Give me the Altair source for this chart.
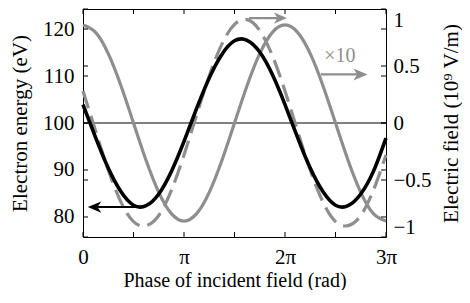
import math
import json
import altair as alt
import pandas as pd

PI = math.pi

# ---- data ----
phase_pi = [0, 0.125, 0.25, 0.375, 0.5, 0.625, 0.75, 0.875, 1.0, 1.125, 1.25, 1.375, 1.5,
            1.625, 1.75, 1.875, 2.0, 2.125, 2.25, 2.375, 2.5, 2.625, 2.75, 2.875, 3.0]
energy_ev = [103.9, 96.9, 90.4, 85.4, 82.5, 82.4, 84.9, 89.7, 96.1, 103.1, 109.6, 114.6, 117.5,
             117.6, 115.1, 110.3, 103.9, 96.9, 90.4, 85.4, 82.5, 82.4, 84.9, 89.7, 96.8]
field_dashed = [0.281, -0.071, -0.413, -0.692, -0.865, -0.900, -0.811, -0.591, -0.281, 0.071, 0.413,
                0.692, 0.865, 0.907, 0.811, 0.591, 0.281, -0.071, -0.413, -0.692, -0.865, -0.900,
                -0.811, -0.591, -0.281]
field_solid = [0.86, 0.795, 0.608, 0.329, 0.0, -0.329, -0.608, -0.795, -0.86, -0.795, -0.608, -0.329,
               0.0, 0.329, 0.608, 0.795, 0.86, 0.795, 0.608, 0.329, 0.0, -0.329, -0.608, -0.795, -0.86]

x_tick_pi = [0, 0.5, 1.0, 1.5, 2.0, 2.5, 3.0]
x_label_pi = [0, 1, 2, 3]
x_labels = ["0", "π", "2π", "3π"]
left_ticks = [80, 90, 100, 110, 120]
right_ticks = [-1, -0.5, 0, 0.5, 1]
right_labels = ["−1", "−0.5", "0", "0.5", "1"]

# annotation arrows (phase in rad, value on own axis)
black_arrow_x = [1.80, 0.358]
black_arrow_v = [82.1, 82.1]
x10_arrow_x = [7.40, 8.63]
x10_arrow_v = [0.426, 0.426]
top_arrow_x = [5.16, 6.14]
top_arrow_v = [0.92, 0.92]
x10_text = "×10"
x10_text_x = [7.99]
x10_text_v = [0.535]

W, H = 303, 228
FONT = "Liberation Serif, Times New Roman, Times, serif"
GRAY = "#8e8e8e"
FS = 21

left_head = "M-1,0 L1,-0.85 L0.45,0 L1,0.85 Z"
right_head = "M1,0 L-1,-0.85 L-0.45,0 L-1,0.85 Z"

x_axis = alt.Axis(
    values=[p * PI for p in x_label_pi],
    labelExpr=json.dumps(x_labels) + "[round(datum.value / PI)]",
    title="Phase of incident field (rad)",
    ticks=False, domain=False, grid=False, labelFlush=False,
    labelFont=FONT, labelFontSize=FS, labelColor="black",
    labelBaseline="alphabetic", labelPadding=26,
    titleFont=FONT, titleFontSize=20, titleFontWeight="normal", titleColor="black",
    titleBaseline="alphabetic", titleY=49, titleX=W / 2,
)
x_enc = alt.X("x:Q", scale=alt.Scale(domain=[0, 3 * PI], nice=False, zero=False), axis=x_axis)

left_axis = alt.Axis(
    orient="left", values=left_ticks, title="Electron energy (eV)",
    ticks=False, domain=False, grid=False,
    labelFont=FONT, labelFontSize=FS, labelColor="black", labelPadding=9,
    titleFont=FONT, titleFontSize=FS, titleFontWeight="normal", titleColor="black",
    titleAngle=270, titleX=-63, titleY=H / 2, titleAlign="center", titleBaseline="middle",
)
ly = alt.Y("v:Q", scale=alt.Scale(domain=[75.74, 124.26], nice=False, zero=False), axis=left_axis)

right_axis = alt.Axis(
    orient="right", values=right_ticks,
    labelExpr=json.dumps(right_labels) + "[round((datum.value + 1) * 2)]",
    title="Electric field (10⁹ V/m)",
    ticks=False, domain=False, grid=False, labelFlush=True,
    labelFont=FONT, labelFontSize=FS, labelColor="black", labelPadding=7,
    titleFont=FONT, titleFontSize=FS, titleFontWeight="normal", titleColor="black",
    titleAngle=270, titleX=65, titleY=H / 2, titleAlign="center", titleBaseline="middle",
)
ry = alt.Y("v:Q", scale=alt.Scale(domain=[-1, 1], nice=False, zero=False), axis=right_axis)

xs = [p * PI for p in phase_pi]
df_black = pd.DataFrame({"x": xs, "v": energy_ev})
df_dash = pd.DataFrame({"x": xs, "v": field_dashed})
df_solid = pd.DataFrame({"x": xs, "v": field_solid})

# ---- left (energy) group ----
black_line = alt.Chart(df_black).mark_line(color="black", strokeWidth=3.6, interpolate="natural").encode(x=x_enc, y=ly)
ba = pd.DataFrame({"x": black_arrow_x, "v": black_arrow_v})
black_shaft = alt.Chart(ba).mark_line(color="black", strokeWidth=2).encode(x=x_enc, y=ly)
black_head = alt.Chart(ba.iloc[[1]]).mark_point(shape=left_head, filled=True, size=180, color="black", opacity=1).encode(x=x_enc, y=ly)
lt = pd.DataFrame({"v": left_ticks})
lt_l = alt.Chart(lt).mark_rule(color="black", strokeWidth=1).encode(y=ly, x=alt.value(0), x2=alt.value(5))
lt_r = alt.Chart(lt).mark_rule(color="black", strokeWidth=1).encode(y=ly, x=alt.value(W - 5), x2=alt.value(W))
left_group = alt.layer(lt_l, lt_r, black_line, black_shaft, black_head)

# ---- right (field) group ----
zero_rule = alt.Chart(pd.DataFrame({"v": [0]})).mark_rule(color="black", strokeWidth=1).encode(y=ry)
solid_line = alt.Chart(df_solid).mark_line(color=GRAY, strokeWidth=3.2, interpolate="natural").encode(x=x_enc, y=ry)
dash_line = alt.Chart(df_dash).mark_line(color=GRAY, strokeWidth=3.2, strokeDash=[18, 8], interpolate="natural").encode(x=x_enc, y=ry)
xa = pd.DataFrame({"x": x10_arrow_x, "v": x10_arrow_v})
x10_shaft = alt.Chart(xa).mark_line(color=GRAY, strokeWidth=2.2).encode(x=x_enc, y=ry)
x10_head = alt.Chart(xa.iloc[[1]]).mark_point(shape=right_head, filled=True, size=200, color=GRAY, opacity=1).encode(x=x_enc, y=ry)
ta = pd.DataFrame({"x": top_arrow_x, "v": top_arrow_v})
top_shaft = alt.Chart(ta).mark_line(color=GRAY, strokeWidth=2.2).encode(x=x_enc, y=ry)
top_head = alt.Chart(ta.iloc[[1]]).mark_point(shape=right_head, filled=True, size=170, color=GRAY, opacity=1).encode(x=x_enc, y=ry)
txt = alt.Chart(pd.DataFrame({"x": x10_text_x, "v": x10_text_v, "t": [x10_text]})).mark_text(
    font=FONT, fontSize=20, color=GRAY, align="center", baseline="alphabetic").encode(x=x_enc, y=ry, text="t:N")
rt = pd.DataFrame({"v": right_ticks})
rt_l = alt.Chart(rt).mark_rule(color="black", strokeWidth=1).encode(y=ry, x=alt.value(0), x2=alt.value(5))
rt_r = alt.Chart(rt).mark_rule(color="black", strokeWidth=1).encode(y=ry, x=alt.value(W - 5), x2=alt.value(W))
xt = pd.DataFrame({"x": [p * PI for p in x_tick_pi]})
xt_b = alt.Chart(xt).mark_rule(color="black", strokeWidth=1).encode(x=x_enc, y=alt.value(H - 5), y2=alt.value(H))
xt_t = alt.Chart(xt).mark_rule(color="black", strokeWidth=1).encode(x=x_enc, y=alt.value(0), y2=alt.value(5))
right_group = alt.layer(zero_rule, rt_l, rt_r, xt_b, xt_t, solid_line, dash_line,
                        x10_shaft, x10_head, top_shaft, top_head, txt)

chart = alt.layer(right_group, left_group).resolve_scale(y="independent").properties(
    width=W, height=H,
    autosize=alt.AutoSizeParams(type="none"),
    padding={"left": 75, "top": 1, "right": 76, "bottom": 53},
    background="white",
).configure_view(stroke="black", strokeWidth=1)

chart.save("out.html", embed_options={"renderer": "svg", "actions": False})
